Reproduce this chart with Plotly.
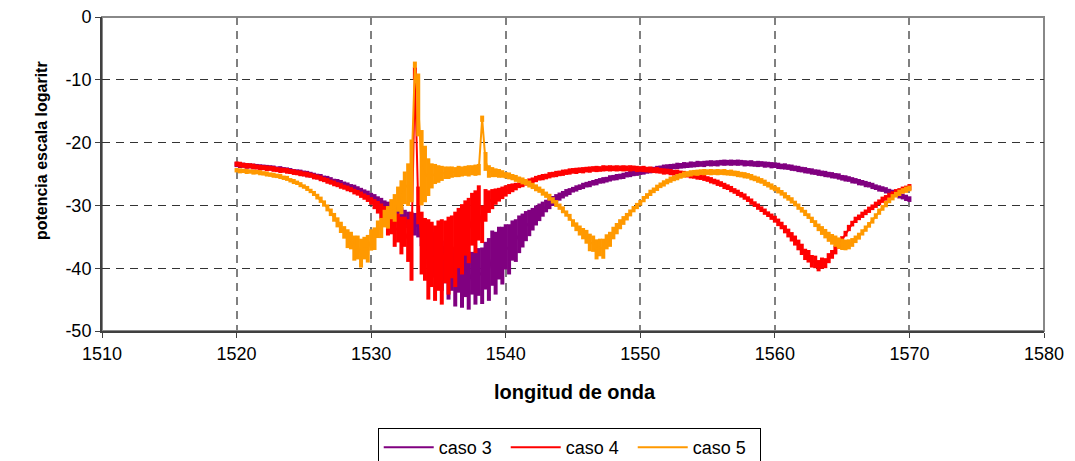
import numpy as np
import plotly.graph_objects as go

# Wavelength grid (nm): one sample every 0.25 nm from 1520 to 1570
wavelength = np.round(np.arange(1520.0, 1570.001, 0.25), 2)

# ---- caso 3 (purple): mid-level of the noisy trace and half-height of its noise band (dB)
caso_3 = [
    -23.5, -23.6, -23.6, -23.7,  -23.7, -23.8, -23.8, -23.9,  # 1520-1521
    -23.9, -24.0, -24.0, -24.1,  -24.2, -24.2, -24.3, -24.4,  # 1522-1523
    -24.5, -24.6, -24.7, -24.8,  -24.9, -25.0, -25.1, -25.3,  # 1524-1525
    -25.4, -25.5, -25.7, -25.8,  -26.0, -26.2, -26.3, -26.5,  # 1526-1527
    -26.7, -26.9, -27.1, -27.3,  -27.5, -27.8, -28.0, -28.3,  # 1528-1529
    -28.6, -28.9, -29.2, -29.6,  -30.0, -30.3, -30.6, -31.0,  # 1530-1531
    -31.2, -31.5, -31.8, -32.3,  -32.8, -33.0, -33.5, -34.3,  # 1532-1533
    -35.0, -36.2, -36.4, -37.9,  -38.0, -39.6, -39.4, -40.8,  # 1534-1535
    -40.2, -41.8, -40.6, -41.9,  -41.0, -42.0, -40.8, -41.6,  # 1536-1537
    -40.6, -41.2, -39.6, -40.2,  -38.4, -39.2, -37.6, -38.0,  # 1538-1539
    -36.6, -37.0, -35.6, -35.6,  -34.6, -34.0, -33.3, -32.8,  # 1540-1541
    -32.2, -31.6, -31.1, -30.6,  -30.1, -29.7, -29.3, -28.9,  # 1542-1543
    -28.6, -28.3, -28.0, -27.8,  -27.5, -27.3, -27.1, -26.9,  # 1544-1545
    -26.7, -26.6, -26.4, -26.3,  -26.1, -26.0, -25.9, -25.7,  # 1546-1547
    -25.6, -25.5, -25.4, -25.3,  -25.1, -25.0, -24.9, -24.8,  # 1548-1549
    -24.7, -24.6, -24.5, -24.4,  -24.3, -24.2, -24.1, -24.0,  # 1550-1551
    -23.9, -23.9, -23.8, -23.7,  -23.7, -23.6, -23.6, -23.5,  # 1552-1553
    -23.5, -23.4, -23.4, -23.4,  -23.3, -23.3, -23.3, -23.3,  # 1554-1555
    -23.2, -23.2, -23.2, -23.2,  -23.2, -23.2, -23.2, -23.3,  # 1556-1557
    -23.3, -23.3, -23.4, -23.4,  -23.4, -23.5, -23.5, -23.6,  # 1558-1559
    -23.6, -23.7, -23.8, -23.8,  -23.9, -24.0, -24.1, -24.2,  # 1560-1561
    -24.3, -24.4, -24.5, -24.6,  -24.7, -24.8, -24.9, -25.0,  # 1562-1563
    -25.1, -25.2, -25.3, -25.4,  -25.6, -25.7, -25.8, -26.0,  # 1564-1565
    -26.1, -26.3, -26.4, -26.6,  -26.7, -26.9, -27.1, -27.3,  # 1566-1567
    -27.4, -27.6, -27.8, -28.0,  -28.2, -28.4, -28.6, -28.8,  # 1568-1569
    -29.0,                                                    # 1570
]
caso_3_noise = [
    0.40, 0.45, 0.40, 0.45,  0.40, 0.45, 0.40, 0.45,  # 1520-1521
    0.40, 0.45, 0.40, 0.45,  0.40, 0.45, 0.40, 0.45,  # 1522-1523
    0.45, 0.40, 0.45, 0.50,  0.45, 0.50, 0.45, 0.50,  # 1524-1525
    0.45, 0.50, 0.45, 0.50,  0.50, 0.45, 0.50, 0.55,  # 1526-1527
    0.50, 0.55, 0.50, 0.60,  0.55, 0.60, 0.55, 0.65,  # 1528-1529
    0.60, 0.70, 0.65, 0.80,  0.80, 0.90, 0.85, 1.00,  # 1530-1531
    1.00, 1.20, 1.10, 1.30,  1.50, 1.80, 1.60, 2.20,  # 1532-1533
    2.40, 3.20, 2.50, 3.60,  3.00, 4.00, 3.00, 4.20,  # 1534-1535
    3.40, 4.30, 3.30, 4.40,  3.60, 4.60, 3.40, 4.20,  # 1536-1537
    3.80, 4.50, 3.80, 5.00,  4.40, 5.00, 4.20, 4.60,  # 1538-1539
    3.60, 4.00, 3.20, 3.40,  3.00, 2.70, 2.40, 2.10,  # 1540-1541
    1.80, 1.60, 1.40, 1.20,  1.00, 0.90, 0.80, 0.70,  # 1542-1543
    0.65, 0.60, 0.60, 0.55,  0.45, 0.50, 0.45, 0.50,  # 1544-1545
    0.45, 0.50, 0.45, 0.50,  0.45, 0.50, 0.45, 0.50,  # 1546-1547
    0.45, 0.50, 0.45, 0.50,  0.45, 0.50, 0.45, 0.50,  # 1548-1549
    0.45, 0.50, 0.45, 0.50,  0.45, 0.50, 0.45, 0.50,  # 1550-1551
    0.45, 0.50, 0.45, 0.50,  0.45, 0.50, 0.45, 0.50,  # 1552-1553
    0.45, 0.50, 0.45, 0.50,  0.45, 0.50, 0.45, 0.50,  # 1554-1555
    0.45, 0.50, 0.45, 0.50,  0.45, 0.50, 0.45, 0.50,  # 1556-1557
    0.45, 0.50, 0.45, 0.50,  0.45, 0.50, 0.45, 0.50,  # 1558-1559
    0.45, 0.50, 0.45, 0.50,  0.45, 0.50, 0.45, 0.50,  # 1560-1561
    0.45, 0.50, 0.45, 0.50,  0.45, 0.50, 0.45, 0.50,  # 1562-1563
    0.45, 0.50, 0.45, 0.50,  0.45, 0.50, 0.45, 0.50,  # 1564-1565
    0.45, 0.50, 0.45, 0.50,  0.45, 0.50, 0.45, 0.50,  # 1566-1567
    0.45, 0.50, 0.45, 0.50,  0.45, 0.50, 0.45, 0.50,  # 1568-1569
    0.45,                                              # 1570
]

# ---- caso 4 (red)
caso_4 = [
    -23.4, -23.5, -23.6, -23.7,  -23.7, -23.8, -23.9, -24.0,  # 1520-1521
    -24.0, -24.1, -24.1, -24.2,  -24.3, -24.4, -24.4, -24.5,  # 1522-1523
    -24.6, -24.7, -24.8, -24.9,  -25.0, -25.1, -25.2, -25.4,  # 1524-1525
    -25.5, -25.7, -25.9, -26.1,  -26.3, -26.5, -26.7, -26.9,  # 1526-1527
    -27.1, -27.3, -27.5, -27.8,  -28.0, -28.3, -28.6, -28.9,  # 1528-1529
    -29.3, -29.8, -30.3, -30.9,  -31.6, -32.6, -32.8, -34.0,  # 1530-1531
    -33.6, -34.8, -34.2, -35.6,  -36.5, -9.0, -30.0, -36.0,   # 1532-1533
    -37.0, -38.6, -37.8, -39.2,  -38.0, -39.0, -37.4, -38.0,  # 1534-1535
    -36.6, -37.0, -35.2, -35.4,  -33.6, -34.0, -32.2, -32.6,  # 1536-1537
    -31.2, -33.0, -30.0, -29.4,  -29.0, -28.6, -28.3, -28.0,  # 1538-1539
    -27.7, -27.4, -27.2, -27.0,  -26.8, -26.6, -26.4, -26.2,  # 1540-1541
    -26.0, -25.8, -25.6, -25.5,  -25.4, -25.2, -25.1, -25.0,  # 1542-1543
    -24.9, -24.8, -24.7, -24.6,  -24.5, -24.5, -24.4, -24.4,  # 1544-1545
    -24.3, -24.3, -24.2, -24.2,  -24.2, -24.1, -24.1, -24.1,  # 1546-1547
    -24.1, -24.1, -24.1, -24.1,  -24.1, -24.1, -24.1, -24.2,  # 1548-1549
    -24.2, -24.2, -24.3, -24.3,  -24.4, -24.4, -24.5, -24.6,  # 1550-1551
    -24.6, -24.7, -24.8, -24.8,  -24.9, -25.0, -25.1, -25.2,  # 1552-1553
    -25.3, -25.4, -25.5, -25.6,  -25.8, -26.0, -26.2, -26.4,  # 1554-1555
    -26.6, -26.9, -27.1, -27.4,  -27.7, -28.0, -28.3, -28.6,  # 1556-1557
    -29.0, -29.4, -29.8, -30.2,  -30.6, -31.0, -31.4, -31.8,  # 1558-1559
    -32.2, -32.7, -33.2, -33.8,  -34.4, -35.0, -35.6, -36.3,  # 1560-1561
    -37.0, -37.8, -38.1, -38.9,  -39.0, -39.6, -39.2, -39.2,  # 1562-1563
    -38.4, -37.8, -37.1, -36.3,  -35.4, -34.5, -33.6, -32.9,  # 1564-1565
    -32.3, -31.9, -31.5, -31.1,  -30.7, -30.3, -29.9, -29.5,  # 1566-1567
    -29.1, -28.8, -28.5, -28.2,  -27.9, -27.7, -27.5, -27.3,  # 1568-1569
    -27.1,                                                    # 1570
]
caso_4_noise = [
    0.40, 0.45, 0.40, 0.45,  0.40, 0.45, 0.40, 0.45,  # 1520-1521
    0.40, 0.45, 0.40, 0.45,  0.40, 0.45, 0.40, 0.45,  # 1522-1523
    0.40, 0.45, 0.40, 0.45,  0.40, 0.45, 0.40, 0.45,  # 1524-1525
    0.40, 0.45, 0.40, 0.45,  0.40, 0.45, 0.40, 0.45,  # 1526-1527
    0.40, 0.45, 0.40, 0.45,  0.45, 0.50, 0.50, 0.55,  # 1528-1529
    0.60, 0.80, 1.00, 1.20,  1.50, 2.20, 1.80, 2.60,  # 1530-1531
    2.30, 3.00, 2.40, 3.40,  5.50, 1.00, 3.00, 5.00,  # 1532-1533
    5.00, 6.40, 5.20, 6.00,  5.60, 6.80, 5.00, 6.20,  # 1534-1535
    5.00, 6.00, 4.80, 5.60,  4.40, 5.20, 4.20, 5.00,  # 1536-1537
    4.40, 3.00, 2.60, 1.80,  1.60, 1.30, 1.10, 1.00,  # 1538-1539
    0.90, 0.80, 0.70, 0.60,  0.45, 0.50, 0.45, 0.50,  # 1540-1541
    0.45, 0.50, 0.45, 0.50,  0.45, 0.50, 0.45, 0.50,  # 1542-1543
    0.45, 0.50, 0.45, 0.50,  0.45, 0.50, 0.45, 0.50,  # 1544-1545
    0.45, 0.50, 0.45, 0.50,  0.45, 0.50, 0.45, 0.50,  # 1546-1547
    0.45, 0.50, 0.45, 0.50,  0.45, 0.50, 0.45, 0.50,  # 1548-1549
    0.45, 0.50, 0.45, 0.50,  0.45, 0.50, 0.45, 0.50,  # 1550-1551
    0.45, 0.50, 0.45, 0.50,  0.45, 0.50, 0.45, 0.50,  # 1552-1553
    0.45, 0.50, 0.45, 0.50,  0.45, 0.50, 0.45, 0.50,  # 1554-1555
    0.45, 0.50, 0.45, 0.50,  0.45, 0.50, 0.45, 0.50,  # 1556-1557
    0.45, 0.50, 0.45, 0.50,  0.45, 0.50, 0.45, 0.50,  # 1558-1559
    0.55, 0.60, 0.60, 0.65,  0.70, 0.75, 0.80, 0.85,  # 1560-1561
    0.90, 0.90, 1.00, 1.00,  1.00, 0.90, 0.90, 0.80,  # 1562-1563
    0.80, 0.70, 0.70, 0.60,  0.50, 0.45, 0.50, 0.45,  # 1564-1565
    0.50, 0.45, 0.50, 0.45,  0.50, 0.45, 0.50, 0.45,  # 1566-1567
    0.50, 0.45, 0.50, 0.45,  0.50, 0.45, 0.50, 0.45,  # 1568-1569
    0.50,                                              # 1570
]

# ---- caso 5 (orange)
caso_5 = [
    -24.4, -24.5, -24.5, -24.6,  -24.6, -24.7, -24.7, -24.8,  # 1520-1521
    -24.9, -25.0, -25.1, -25.2,  -25.3, -25.4, -25.6, -25.7,  # 1522-1523
    -26.0, -26.2, -26.4, -26.7,  -27.0, -27.3, -27.7, -28.1,  # 1524-1525
    -28.6, -29.1, -29.7, -30.4,  -31.1, -31.9, -32.7, -33.5,  # 1526-1527
    -34.3, -35.3, -35.6, -36.8,  -36.7, -37.6, -36.8, -36.9,  # 1528-1529
    -35.5, -35.3, -33.8, -33.6,  -32.1, -31.9, -30.6, -30.4,  # 1530-1531
    -29.0, -28.7, -27.2, -26.7,  -24.5, -7.6, -14.0, -24.0,   # 1532-1533
    -25.0, -25.5, -25.3, -25.0,  -25.0, -24.9, -24.8, -24.8,  # 1534-1535
    -24.7, -24.7, -24.6, -24.6,  -24.5, -24.5, -24.4, -24.4,  # 1536-1537
    -24.3, -16.2, -23.0, -24.6,  -24.7, -24.8, -24.9, -25.0,  # 1538-1539
    -25.2, -25.3, -25.5, -25.7,  -25.9, -26.1, -26.3, -26.6,  # 1540-1541
    -26.9, -27.2, -27.5, -27.9,  -28.3, -28.7, -29.2, -29.7,  # 1542-1543
    -30.2, -30.7, -31.3, -31.9,  -32.8, -33.4, -34.0, -34.5,  # 1544-1545
    -35.0, -35.9, -36.1, -37.0,  -36.7, -36.9, -35.8, -35.4,  # 1546-1547
    -34.4, -33.7, -33.0, -32.4,  -31.8, -31.2, -30.6, -30.1,  # 1548-1549
    -29.6, -29.0, -28.5, -28.0,  -27.6, -27.2, -26.8, -26.5,  # 1550-1551
    -26.2, -25.9, -25.7, -25.5,  -25.3, -25.1, -25.0, -24.9,  # 1552-1553
    -24.8, -24.8, -24.7, -24.7,  -24.7, -24.7, -24.7, -24.7,  # 1554-1555
    -24.7, -24.7, -24.8, -24.8,  -24.9, -25.0, -25.1, -25.2,  # 1556-1557
    -25.3, -25.5, -25.7, -25.9,  -26.1, -26.4, -26.7, -27.0,  # 1558-1559
    -27.3, -27.6, -28.0, -28.4,  -28.8, -29.2, -29.7, -30.2,  # 1560-1561
    -30.7, -31.2, -31.7, -32.3,  -32.9, -33.5, -34.0, -34.5,  # 1562-1563
    -35.0, -35.4, -35.7, -36.0,  -36.2, -36.3, -36.2, -35.9,  # 1564-1565
    -35.4, -34.9, -34.3, -33.7,  -33.1, -32.4, -31.7, -31.0,  # 1566-1567
    -30.4, -29.8, -29.2, -28.7,  -28.3, -28.0, -27.7, -27.5,  # 1568-1569
    -27.3,                                                    # 1570
]
caso_5_noise = [
    0.35, 0.40, 0.35, 0.40,  0.35, 0.40, 0.35, 0.40,  # 1520-1521
    0.35, 0.40, 0.35, 0.40,  0.35, 0.40, 0.35, 0.40,  # 1522-1523
    0.35, 0.40, 0.35, 0.40,  0.35, 0.40, 0.35, 0.40,  # 1524-1525
    0.45, 0.50, 0.50, 0.55,  0.60, 0.70, 0.80, 0.90,  # 1526-1527
    1.00, 1.50, 1.40, 2.00,  1.90, 2.30, 1.80, 2.20,  # 1528-1529
    1.70, 1.80, 1.40, 1.60,  1.40, 1.80, 1.60, 2.20,  # 1530-1531
    2.00, 2.70, 2.60, 3.40,  5.00, 0.50, 5.00, 6.00,  # 1532-1533
    4.50, 3.00, 2.00, 1.60,  1.40, 1.20, 1.00, 1.00,  # 1534-1535
    0.90, 0.80, 0.90, 0.80,  0.80, 0.90, 0.80, 0.90,  # 1536-1537
    0.90, 0.50, 1.50, 1.00,  0.80, 0.70, 0.70, 0.60,  # 1538-1539
    0.50, 0.55, 0.50, 0.55,  0.50, 0.55, 0.50, 0.55,  # 1540-1541
    0.50, 0.55, 0.50, 0.55,  0.50, 0.55, 0.50, 0.55,  # 1542-1543
    0.50, 0.55, 0.50, 0.55,  0.60, 0.70, 0.80, 0.90,  # 1544-1545
    1.10, 1.40, 1.30, 1.60,  1.40, 1.60, 1.20, 1.20,  # 1546-1547
    1.00, 0.90, 0.80, 0.70,  0.60, 0.55, 0.50, 0.50,  # 1548-1549
    0.45, 0.50, 0.45, 0.50,  0.45, 0.50, 0.45, 0.50,  # 1550-1551
    0.45, 0.50, 0.45, 0.50,  0.45, 0.50, 0.45, 0.50,  # 1552-1553
    0.45, 0.50, 0.45, 0.50,  0.45, 0.50, 0.45, 0.50,  # 1554-1555
    0.45, 0.50, 0.45, 0.50,  0.45, 0.50, 0.45, 0.50,  # 1556-1557
    0.45, 0.50, 0.45, 0.50,  0.45, 0.50, 0.45, 0.50,  # 1558-1559
    0.45, 0.50, 0.45, 0.50,  0.45, 0.50, 0.45, 0.50,  # 1560-1561
    0.45, 0.50, 0.45, 0.50,  0.55, 0.60, 0.70, 0.75,  # 1562-1563
    0.80, 0.85, 0.90, 0.90,  0.90, 0.85, 0.80, 0.70,  # 1564-1565
    0.60, 0.55, 0.50, 0.50,  0.45, 0.50, 0.45, 0.50,  # 1566-1567
    0.45, 0.50, 0.45, 0.50,  0.45, 0.50, 0.45, 0.50,  # 1568-1569
    0.45,                                              # 1570
]

series_names = ["caso 3", "caso 4", "caso 5"]
series_values = [caso_3, caso_4, caso_5]
series_noise = [caso_3_noise, caso_4_noise, caso_5_noise]
series_colors = ["#800080", "#FF0000", "#FF9900"]

x_ticks = [1510, 1520, 1530, 1540, 1550, 1560, 1570, 1580]
y_ticks = [-50, -40, -30, -20, -10, 0]

for v, n in zip(series_values, series_noise):
    assert len(v) == len(wavelength) == len(n)

FONT = "Liberation Sans, Arial, sans-serif"

fig = go.Figure()
for name, vals, noise, col in zip(series_names, series_values, series_noise, series_colors):
    fig.add_trace(go.Scatter(
        x=wavelength, y=vals, mode="lines", name=name,
        line=dict(color=col, width=2),
        error_y=dict(type="data", array=noise, symmetric=True,
                     width=0, thickness=4, color=col),
    ))

fig.update_layout(
    width=1075, height=461,
    margin=dict(l=102, r=31, t=17, b=130, autoexpand=False),
    paper_bgcolor="white", plot_bgcolor="white",
    font=dict(family=FONT, size=18, color="black"),
    showlegend=True,
    legend=dict(
        orientation="h", x=0.496, xanchor="center", y=-0.309, yanchor="top",
        bordercolor="black", borderwidth=1, font=dict(size=18),
        itemwidth=50, tracegroupgap=0, entrywidth=62,
    ),
    xaxis=dict(
        range=[1510, 1580], tickvals=x_ticks, ticktext=[str(v) for v in x_ticks],
        showgrid=True, gridcolor="#808080", gridwidth=2, griddash="8px,6px",
        showline=True, linecolor="#404040", linewidth=2,
        ticks="outside", ticklen=5, tickcolor="#404040", tickwidth=1,
        zeroline=False, tickfont=dict(size=18),
    ),
    yaxis=dict(
        range=[-50, 0], tickvals=y_ticks, ticktext=[str(v) for v in y_ticks],
        showgrid=True, gridcolor="#333333", gridwidth=1, griddash="8px,6px",
        showline=True, linecolor="#404040", linewidth=2,
        ticks="outside", ticklen=5, tickcolor="#404040", tickwidth=1,
        zeroline=False, tickfont=dict(size=18),
    ),
    shapes=[dict(type="rect", xref="paper", yref="paper", x0=0, y0=0, x1=1, y1=1,
                 line=dict(color="#888888", width=2), layer="below")],
    annotations=[
        dict(text="<b>longitud de onda</b>", xref="paper", yref="paper",
             x=0.5016, y=-0.194, xanchor="center", yanchor="middle",
             showarrow=False, font=dict(size=20, family=FONT)),
        dict(text="<b>potencia escala logaritr</b>", xref="paper", yref="paper",
             x=-0.0648, y=0.576, xanchor="center", yanchor="middle", textangle=-90,
             showarrow=False, font=dict(size=16, family=FONT)),
    ],
)

fig.write_html("out.html")
